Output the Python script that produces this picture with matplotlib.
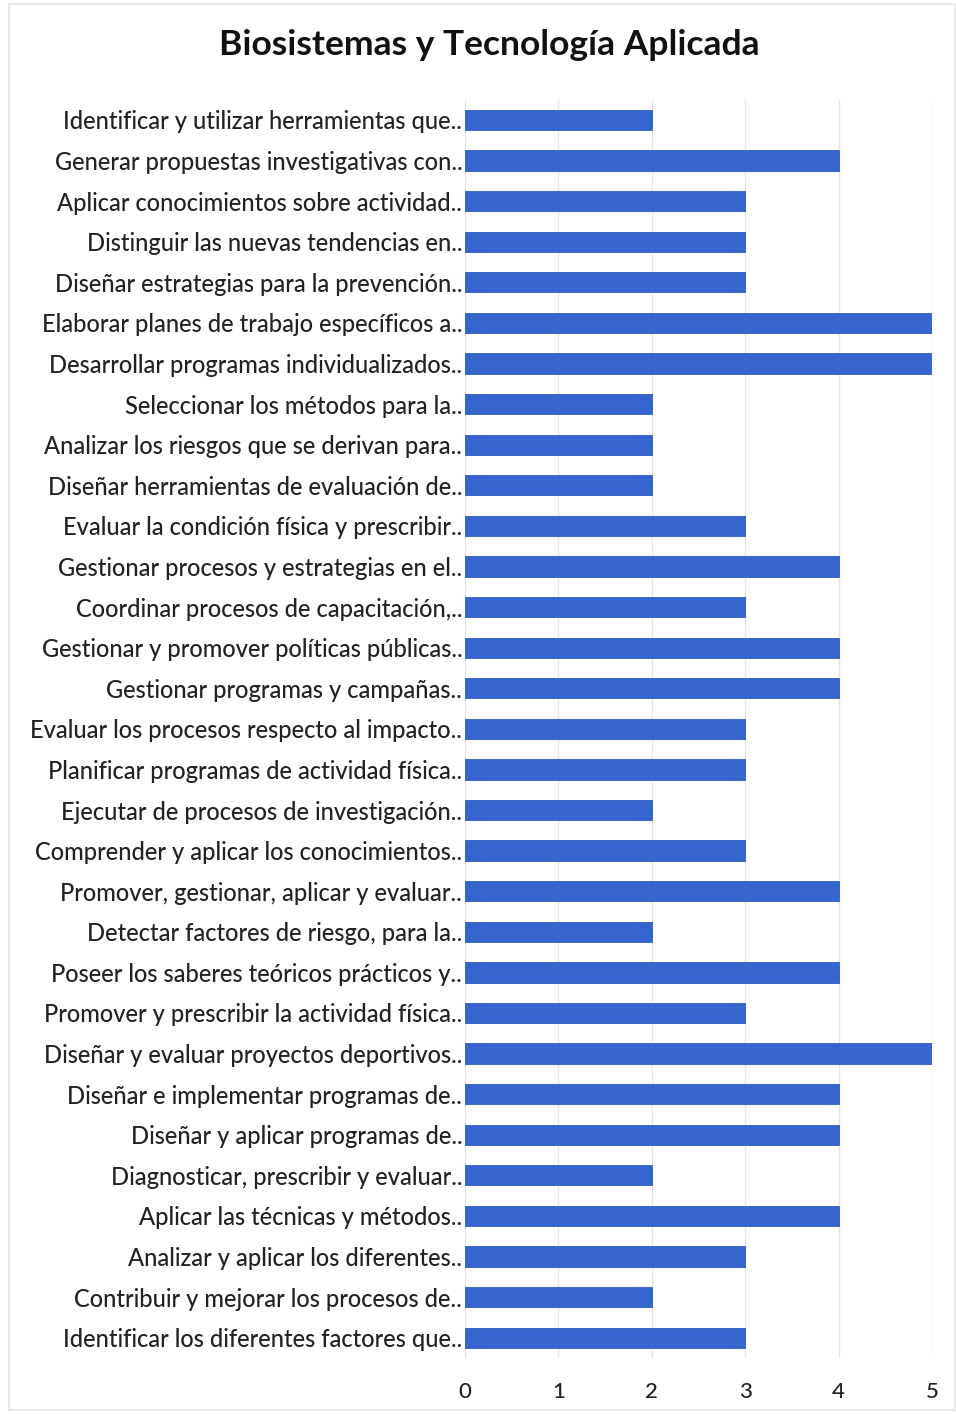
import matplotlib

matplotlib.use("Agg")
import matplotlib.pyplot as plt  # noqa: E402
from matplotlib.patches import Rectangle  # noqa: E402

TITLE = "Biosistemas y Tecnología Aplicada"

labels = [
    "Identificar y utilizar herramientas que..",
    "Generar propuestas investigativas con..",
    "Aplicar conocimientos sobre actividad..",
    "Distinguir las nuevas tendencias en..",
    "Diseñar estrategias para la prevención..",
    "Elaborar planes de trabajo específicos a..",
    "Desarrollar programas individualizados..",
    "Seleccionar los métodos para la..",
    "Analizar los riesgos que se derivan para..",
    "Diseñar herramientas de evaluación de..",
    "Evaluar la condición física y prescribir..",
    "Gestionar procesos y estrategias en el..",
    "Coordinar procesos de capacitación,..",
    "Gestionar y promover políticas públicas..",
    "Gestionar programas y campañas..",
    "Evaluar los procesos respecto al impacto..",
    "Planificar programas de actividad física..",
    "Ejecutar de procesos de investigación..",
    "Comprender y aplicar los conocimientos..",
    "Promover, gestionar, aplicar y evaluar..",
    "Detectar factores de riesgo, para la..",
    "Poseer los saberes teóricos prácticos y..",
    "Promover y prescribir la actividad física..",
    "Diseñar y evaluar proyectos deportivos..",
    "Diseñar e implementar programas de..",
    "Diseñar y aplicar programas de..",
    "Diagnosticar, prescribir y evaluar..",
    "Aplicar las técnicas y métodos..",
    "Analizar y aplicar los diferentes..",
    "Contribuir y mejorar los procesos de..",
    "Identificar los diferentes factores que..",
]
values = [2, 4, 3, 3, 3, 5, 5, 2, 2, 2, 3, 4, 3, 4, 4, 3, 3, 2, 3, 4,
          2, 4, 3, 5, 4, 4, 2, 4, 3, 2, 3]
xticks = [0, 1, 2, 3, 4, 5]

plt.rcParams["font.family"] = ["Lato", "DejaVu Sans"]

fig = plt.figure(figsize=(9.56, 14.14), dpi=100)
fig.patches.append(Rectangle((0.009, 0.003), 0.99, 0.994, transform=fig.transFigure,
                             fill=False, edgecolor="#e4e4e4", lw=1.2))
ax = fig.add_axes([0.4864, 0.0396, 0.4886, 0.8899])

y = list(range(len(labels)))
ax.barh(y, values, height=0.5, color="#3566cf", edgecolor="#2f5cc0", lw=0.6, zorder=3)
ax.set_ylim(len(labels) - 0.5, -0.5)
ax.set_xlim(0, 5)
ax.set_yticks(y)
ax.set_yticklabels(labels, fontsize=17, color="#222222", fontweight="medium")
ax.set_xticks(xticks)
ax.set_xticklabels([str(t) for t in xticks], fontsize=16, color="#222222",
                   fontweight="medium")
ax.tick_params(axis="y", length=0, pad=2)
ax.tick_params(axis="x", length=0, pad=17)
ax.grid(axis="x", color="#e6e6e6", lw=1, zorder=0)
for s in ax.spines.values():
    s.set_visible(False)

fig.text(0.512, 0.968, TITLE, ha="center", va="center", fontsize=25.5, fontweight="bold",
         color="#111111")

fig.savefig("out.png", dpi=100)
